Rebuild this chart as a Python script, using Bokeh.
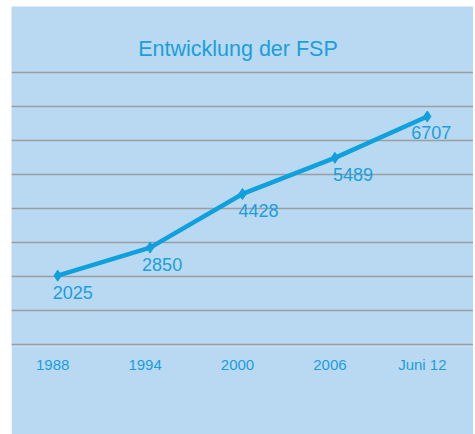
from bokeh.plotting import figure
from bokeh.models import Range1d, FixedTicker, LinearAxis, Label, ColumnDataSource
from bokeh.core.properties import value
from bokeh.embed import file_html
from bokeh.resources import INLINE

# ---- data ----
categories = ["1988", "1994", "2000", "2006", "Juni 12"]
members = [2025, 2850, 4428, 5489, 6707]
grid_values = [0, 1000, 2000, 3000, 4000, 5000, 6000, 7000, 8000]
title_text = "Entwicklung der FSP"

# ---- styles ----
BG = "#b8d9f1"
BLUE = "#0fa0de"
TXT = "#1a9fdc"
GRID = "#9a9ea3"
FONT = "Liberation Sans"
label_dx = [-5, -8, -4, -2, -16]

idx = list(range(len(categories)))
src = ColumnDataSource(dict(x=idx, y=members, t=[str(v) for v in members], dx=label_dx))

p = figure(width=462, height=428, output_backend="svg", toolbar_location=None,
           x_range=Range1d(-0.5, 4.5), y_range=Range1d(-59, 9941),
           x_axis_location=None, min_border_left=0, min_border_right=0,
           min_border_top=0, min_border_bottom=88, outline_line_color=None,
           background_fill_color=BG, border_fill_color=BG,
           margin=(6, 2, 0, 11))

p.yaxis.visible = False
p.xgrid.visible = False
p.ygrid.ticker = FixedTicker(ticks=grid_values)
p.ygrid.grid_line_color = GRID
p.ygrid.grid_line_width = 1.5

p.extra_x_ranges = {"lab": Range1d(-0.5 + 0.054, 4.5 + 0.054)}
ax = LinearAxis(x_range_name="lab", ticker=FixedTicker(ticks=idx),
                major_label_overrides={i: c for i, c in zip(idx, categories)})
ax.axis_line_color = None
ax.major_tick_line_color = None
ax.minor_tick_line_color = None
ax.major_tick_out = 0
ax.major_label_standoff = 9
ax.major_label_text_font = FONT
ax.major_label_text_font_size = "15px"
ax.major_label_text_color = TXT
p.add_layout(ax, "below")

p.line("x", "y", source=src, line_color=BLUE, line_width=4.5)
p.scatter("x", "y", source=src, marker="diamond", size=11, color=BLUE)
p.text("x", "y", text="t", source=src, x_offset="dx", y_offset=10,
       text_baseline="top", text_align="left", text_color=TXT,
       text_font=value(FONT), text_font_size="18px")

p.add_layout(Label(x=2, y=8700, text=title_text, x_offset=-4.5, text_align="center",
                   text_baseline="alphabetic", text_color=TXT, text_font=FONT,
                   text_font_size="21.5px"))

open("out.html", "w").write(file_html(p, INLINE))
